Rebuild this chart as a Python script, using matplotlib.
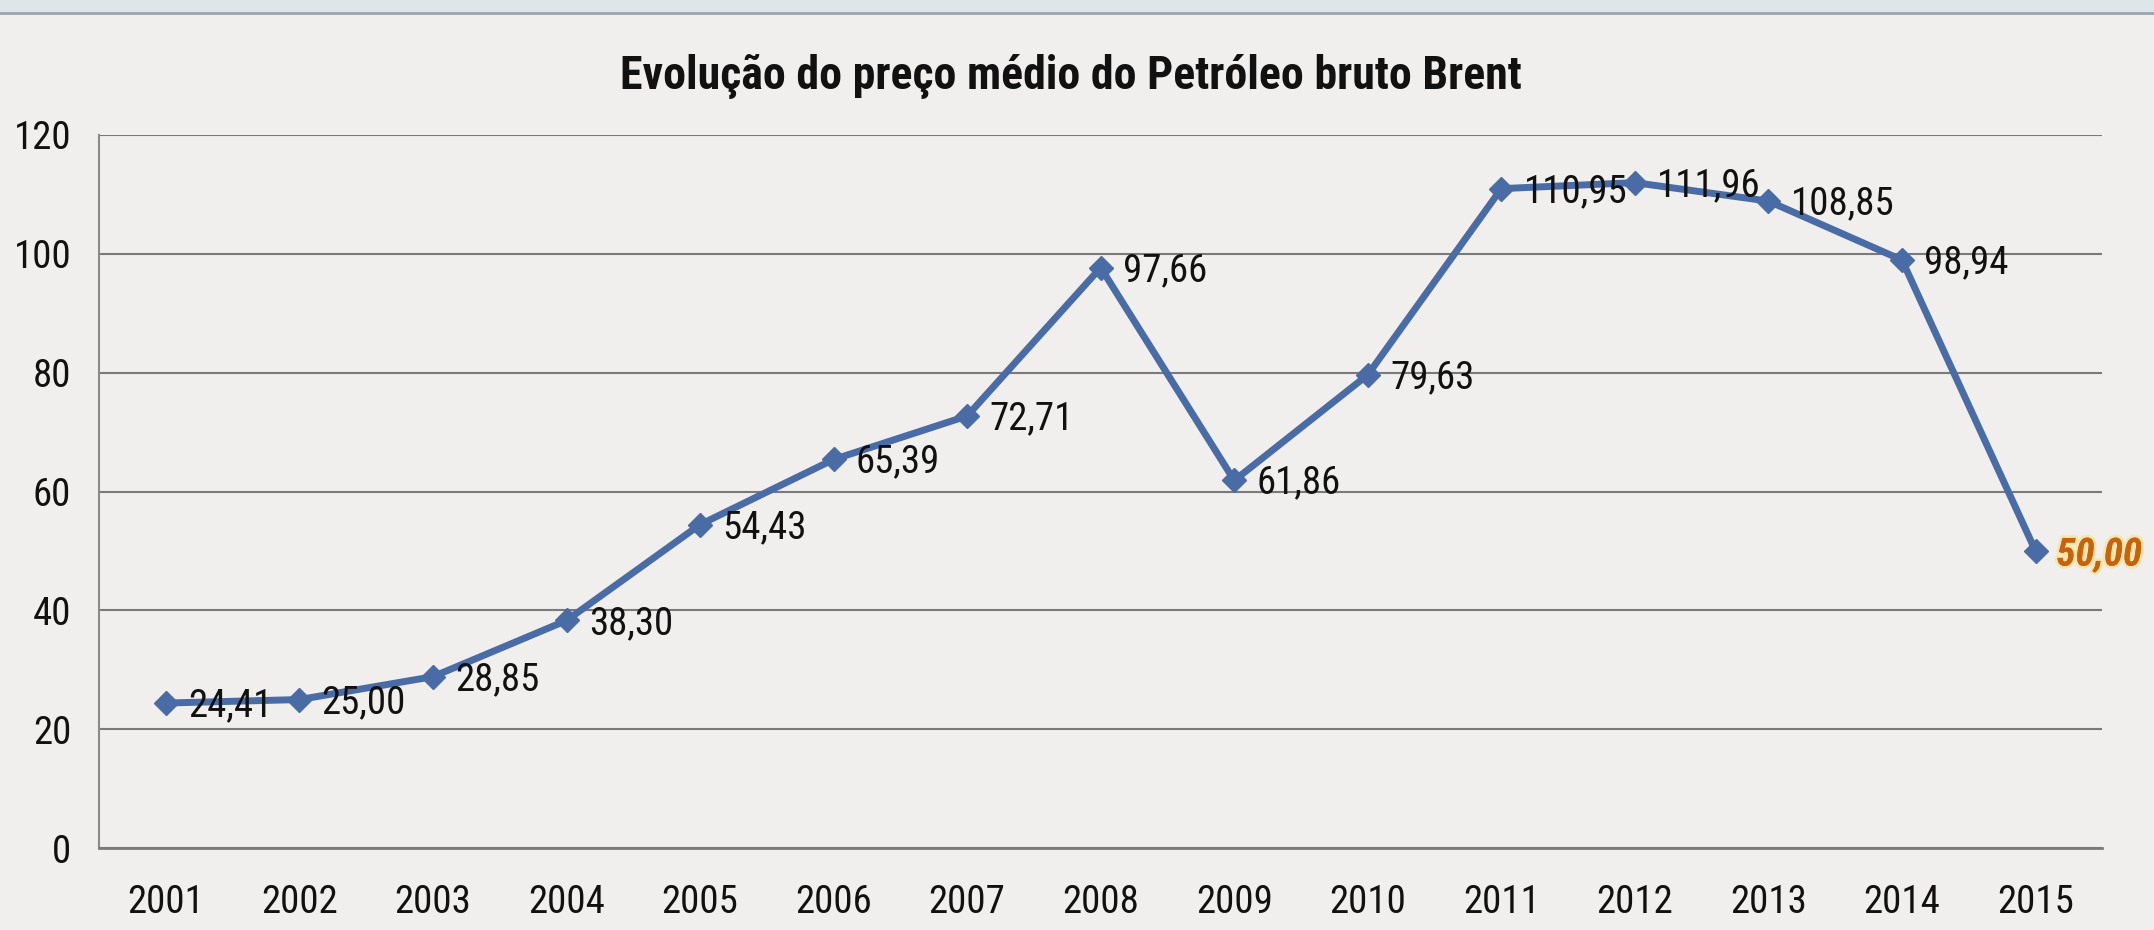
import matplotlib.pyplot as plt
import matplotlib.patheffects as pe
from matplotlib import font_manager

# Brent: preço médio anual
anos = ['2001', '2002', '2003', '2004', '2005', '2006', '2007', '2008',
        '2009', '2010', '2011', '2012', '2013', '2014', '2015']
precos = [24.41, 25.00, 28.85, 38.30, 54.43, 65.39, 72.71, 97.66,
          61.86, 79.63, 110.95, 111.96, 108.85, 98.94, 50.00]
yticks = [0, 20, 40, 60, 80, 100, 120]

# fonte estreita, se houver
nomes = {f.name for f in font_manager.fontManager.ttflist}
condensadas = {(f.name, f.stretch) for f in font_manager.fontManager.ttflist}
fonte, estica = 'Liberation Sans', 'normal'
for nome in ['Liberation Sans Narrow', 'Roboto Condensed', 'Open Sans Condensed']:
    if nome in nomes:
        fonte = nome
        break
else:
    for n, s in condensadas:
        if n == 'DejaVu Sans' and s in ('condensed', 'semi-condensed'):
            fonte, estica = 'DejaVu Sans', 'condensed'
            break
plt.rcParams['font.family'] = [fonte, 'DejaVu Sans']
plt.rcParams['font.stretch'] = estica

fundo = '#f0efed'
azul = '#4a6ca6'
tam = 28

fig = plt.figure(figsize=(21.54, 9.3), dpi=100, facecolor=fundo)
ax = fig.add_axes([0.046, 0.088, 0.930, 0.767])
ax.set_facecolor(fundo)

x = list(range(len(anos)))
ax.plot(x, precos, color=azul, lw=5, marker='D', ms=12, mec=azul, mfc=azul, zorder=3)

# rótulos de valor à direita de cada ponto
for i, v in enumerate(precos):
    txt = f'{v:.2f}'.replace('.', ',')
    if i == len(precos) - 1:
        t = ax.annotate(txt, (i, v), xytext=(15, -3), textcoords='offset points',
                        ha='left', va='center', fontsize=tam, color='#c8630c',
                        fontweight='bold', fontstyle='italic', zorder=4)
        t.set_path_effects([pe.withStroke(linewidth=4, foreground='#f8e6b0'), pe.Normal()])
    else:
        ax.annotate(txt, (i, v), xytext=(16, -2), textcoords='offset points',
                    ha='left', va='center', fontsize=tam, color='#111111', zorder=4)

ax.set_xlim(-0.5, len(anos) - 0.5)
ax.set_ylim(0, 120)
ax.set_yticks(yticks)
ax.set_xticks(x)
ax.set_xticklabels(anos)
ax.tick_params(axis='both', length=0, labelsize=tam, colors='#111111')
ax.tick_params(axis='y', pad=20)
ax.tick_params(axis='x', pad=26)

ax.grid(axis='y', color='#7a7a7a', lw=1.5)
ax.set_axisbelow(True)
for s in ['top', 'right']:
    ax.spines[s].set_visible(False)
ax.spines['left'].set_color('#8a8a8a')
ax.spines['left'].set_linewidth(1.5)
ax.spines['bottom'].set_color('#7a7a7a')
ax.spines['bottom'].set_linewidth(2)

fig.text(0.497, 0.918, 'Evolução do preço médio do Petróleo bruto Brent',
         ha='center', va='center', fontsize=33, fontweight='bold', color='#111111')

# barra fina no topo
fig.add_artist(plt.Line2D([0, 1], [0.986, 0.986], color='#9aa6ad', lw=2))
fig.patches.append(plt.Rectangle((0, 0.986), 1, 0.014, transform=fig.transFigure,
                                 facecolor='#dfe6ea', edgecolor='none'))

fig.savefig('out.png', dpi=100, facecolor=fundo)
